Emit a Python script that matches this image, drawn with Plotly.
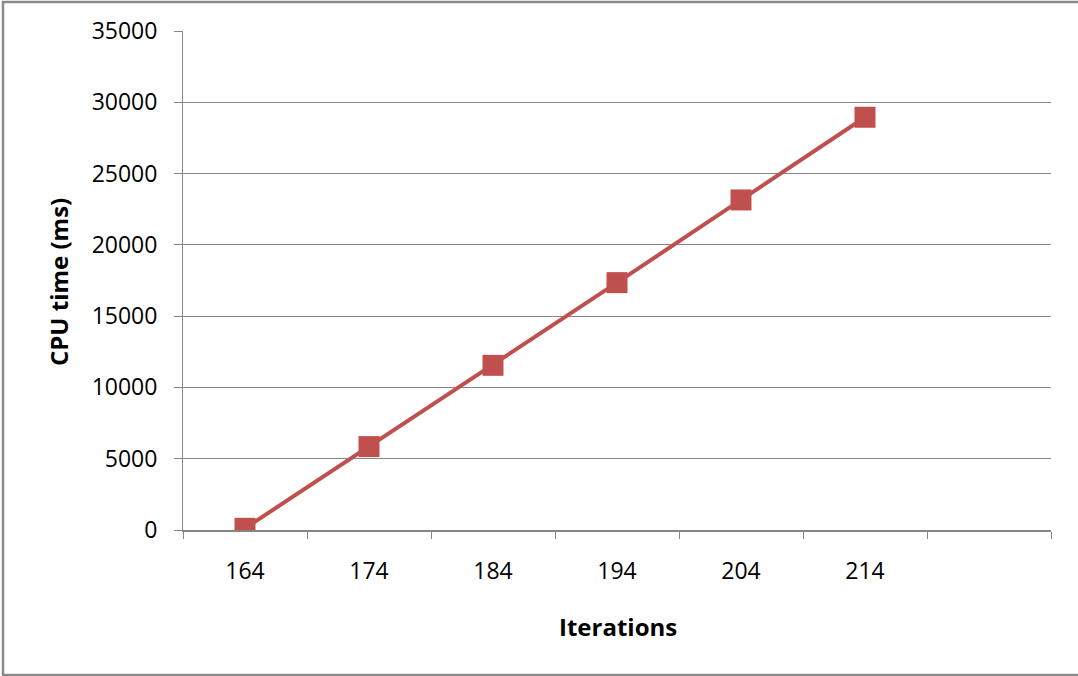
import plotly.graph_objects as go

# CPU time per iteration count
iterations = ["164", "174", "184", "194", "204", "214"]
cpu_time_ms = [120, 5850, 11550, 17350, 23150, 28950]
y_ticks = [0, 5000, 10000, 15000, 20000, 25000, 30000, 35000]
n_slots = 7  # category slots on the x axis (last one left empty)

W, H = 1078, 676
PLOT_L, PLOT_R, PLOT_T, PLOT_B = 183, 1051, 31, 530

GRID = "#868686"
RED = "#C0504D"
FONT = "Open Sans"

x_idx = list(range(len(iterations)))

fig = go.Figure()
fig.add_trace(go.Scatter(
    x=x_idx,
    y=cpu_time_ms,
    mode="lines+markers",
    line=dict(color=RED, width=4),
    marker=dict(symbol="square", size=21, color=RED),
    showlegend=False,
    hoverinfo="x+y",
))

pw = PLOT_R - PLOT_L
ph = PLOT_B - PLOT_T


def px_to_paper_x(px):
    return (px - PLOT_L) / pw


def px_to_paper_y(py):
    return (PLOT_B - py) / ph


fig.update_layout(
    width=W,
    height=H,
    margin=dict(l=PLOT_L, r=W - PLOT_R, t=PLOT_T, b=H - PLOT_B),
    paper_bgcolor="white",
    plot_bgcolor="white",
    font=dict(family=FONT, color="#000000"),
    xaxis=dict(
        range=[-0.5, n_slots - 0.5],
        tickvals=x_idx,
        ticktext=iterations,
        ticks="",
        showgrid=False,
        zeroline=False,
        showline=True,
        linecolor=GRID,
        linewidth=2,
        tickfont=dict(family=FONT, size=23, color="#000000"),
        ticklabelstandoff=19,
        minor=dict(
            tick0=-0.5,
            dtick=1,
            ticks="outside",
            ticklen=7,
            tickwidth=1,
            tickcolor=GRID,
            showgrid=False,
        ),
        fixedrange=True,
    ),
    yaxis=dict(
        range=[0, 35000],
        tickvals=y_ticks,
        ticktext=[str(v) for v in y_ticks],
        ticks="outside",
        ticklen=8,
        tickwidth=1,
        tickcolor=GRID,
        showgrid=True,
        gridcolor=GRID,
        gridwidth=1,
        zeroline=False,
        showline=True,
        linecolor=GRID,
        linewidth=1,
        tickfont=dict(family=FONT, size=23, color="#000000"),
        ticklabelstandoff=12,
        fixedrange=True,
    ),
    annotations=[
        dict(
            text="<b>CPU time (ms)</b>",
            xref="paper", yref="paper",
            x=px_to_paper_x(58), y=px_to_paper_y(282),
            xanchor="center", yanchor="middle",
            textangle=-90,
            showarrow=False,
            font=dict(family=FONT, size=24, color="#000000"),
        ),
        dict(
            text="<b>Iterations</b>",
            xref="paper", yref="paper",
            x=px_to_paper_x(618), y=px_to_paper_y(626),
            xanchor="center", yanchor="middle",
            showarrow=False,
            font=dict(family=FONT, size=24, color="#000000"),
        ),
    ],
    shapes=[
        # chart-area frame, open on the right
        dict(
            type="path",
            xref="paper", yref="paper",
            path=(
                f"M {px_to_paper_x(W + 10)},{px_to_paper_y(2)} "
                f"L {px_to_paper_x(3)},{px_to_paper_y(2)} "
                f"L {px_to_paper_x(3)},{px_to_paper_y(675)} "
                f"L {px_to_paper_x(W + 10)},{px_to_paper_y(675)}"
            ),
            line=dict(color="#8a8a8a", width=2.5),
            layer="above",
        ),
    ],
)

fig.write_html("out.html")
